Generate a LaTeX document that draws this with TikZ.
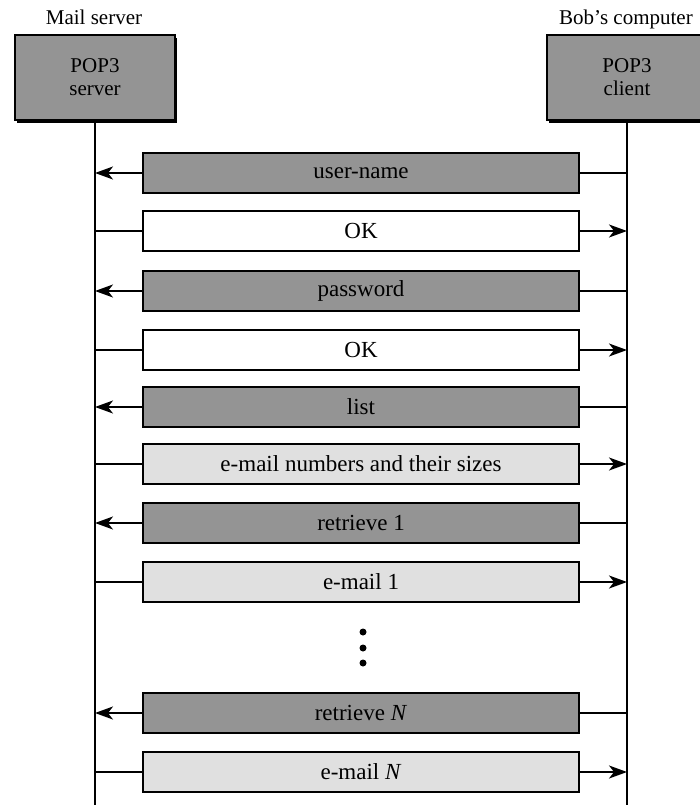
\documentclass[tikz,border=0pt]{standalone}
\usepackage{fontspec}
\setmainfont{Liberation Serif}
\usetikzlibrary{arrows.meta,shadows}

\begin{document}
\begin{tikzpicture}[x=1pt,y=-1pt,
  host/.style={draw,line width=1.2pt,fill=black!42,minimum width=160pt,minimum height=85pt,
    align=center,font=\fontsize{21}{23}\selectfont,
    drop shadow={shadow xshift=2pt,shadow yshift=-3pt,opacity=1,fill=black}},
  side/.style={font=\fontsize{21}{23}\selectfont,anchor=base},
  msg/.style={draw,line width=1.3pt,minimum width=436pt,minimum height=40pt,inner sep=0pt,
    font=\fontsize{23}{25}\selectfont},
  req/.style={msg,fill=black!42},
  ack/.style={msg,fill=white},
  mail/.style={msg,fill=black!12},
  lane/.style={line width=1.3pt},
  wire/.style={line width=1.5pt},
  tip/.style={wire,-{Stealth[length=18pt,width=13pt,inset=5pt]}}]
  \useasboundingbox (0,0) rectangle (700,805);
  \clip (0,0) rectangle (700,805);
  % Hosts and their lifelines
  \node[side] (srvlabel) at (94,25) {Mail server};
  \node[side] (clilabel) at (626,25) {Bob's computer};
  \node[host] (srv) at (95,77.5) {POP3\\server};
  \node[host] (cli) at (627,77.5) {POP3\\client};
  \coordinate (srvend) at (95,805);
  \coordinate (cliend) at (627,805);
  \draw[lane] (srv.south) -- (srvend);
  \draw[lane] (cli.south) -- (cliend);
  % Client to server
  \node[req] (user) at (361,173) {user-name};
  \node[req] (pass) at (361,291) {password};
  \node[req] (list) at (361,407) {list};
  \node[req] (retr1) at (361,523) {retrieve 1};
  \node[req] (retrN) at (361,713) {retrieve \textit{N}};
  \foreach \m in {user,pass,list,retr1,retrN} {
    \draw[tip] (\m.west) -- (\m.west -| srv);
    \draw[wire] (\m.east -| cli) -- (\m.east);
  }
  % Server to client
  \node[ack] (ok1) at (361,231) {OK};
  \node[ack] (ok2) at (361,350) {OK};
  \node[mail] (sizes) at (361,464) {e-mail numbers and their sizes};
  \node[mail] (mail1) at (361,582) {e-mail 1};
  \node[mail] (mailN) at (361,772) {e-mail \textit{N}};
  \foreach \m in {ok1,ok2,sizes,mail1,mailN} {
    \draw[wire] (\m.west -| srv) -- (\m.west);
    \draw[tip] (\m.east) -- (\m.east -| cli);
  }
  % More messages
  \foreach \y in {632,648,663}
    \fill (363,\y) circle (3.5pt);
\end{tikzpicture}
\end{document}
